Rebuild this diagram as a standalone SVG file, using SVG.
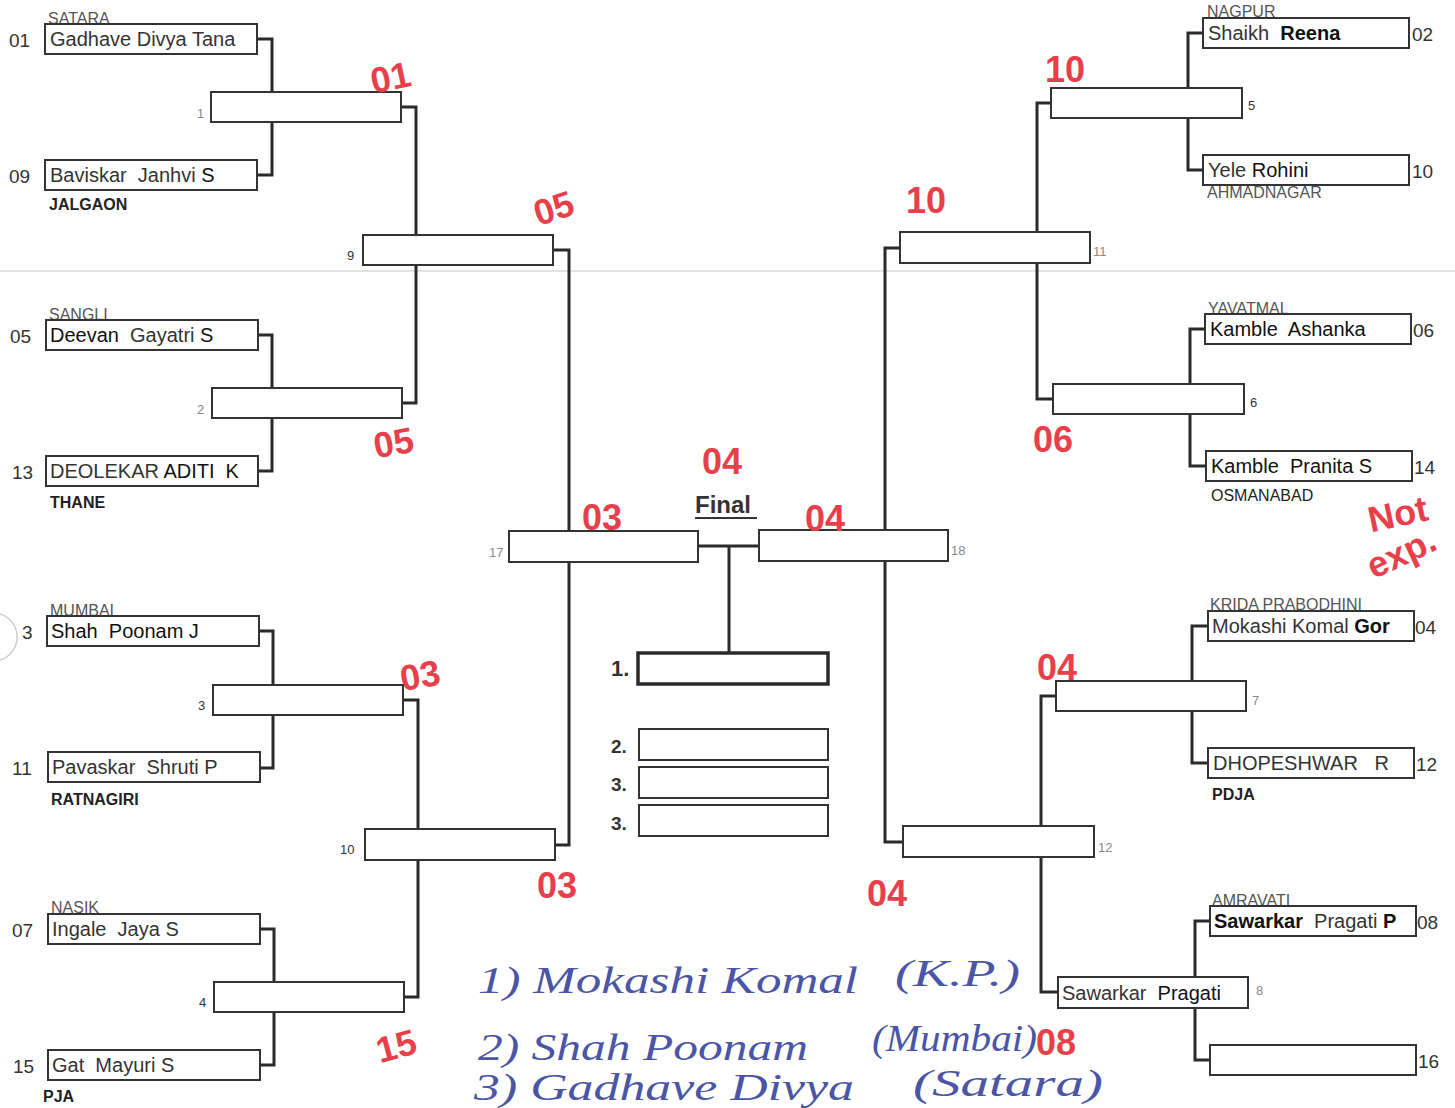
<svg xmlns="http://www.w3.org/2000/svg" width="1455" height="1108" viewBox="0 0 1455 1108">
<style>
.bx{fill:#fff;stroke:#333;stroke-width:2}
.bxf{fill:#fff;stroke:#2a2a2a;stroke-width:3.5}
.cn{fill:none;stroke:#2a2a2a;stroke-width:3}
.nm{font-family:"Liberation Sans",Arial,sans-serif;font-size:20px;fill:#333;white-space:pre}
.dk{fill:#111}
.sd{font-family:"Liberation Sans",Arial,sans-serif;font-size:19px;fill:#333}
.ct{font-family:"Liberation Sans",Arial,sans-serif;font-size:16px;fill:#555}
.cb{font-family:"Liberation Sans",Arial,sans-serif;font-size:16px;font-weight:bold;fill:#222}
.mn{font-family:"Liberation Sans",Arial,sans-serif;font-size:13px;fill:#888}
.md{font-family:"Liberation Sans",Arial,sans-serif;font-size:13px;fill:#333}
.fb{font-family:"Liberation Sans",Arial,sans-serif;font-weight:bold;fill:#333}
.rd{font-family:"Liberation Sans",Arial,sans-serif;font-weight:bold;fill:#e8404a;font-size:36px}
.bl{font-family:"Liberation Serif","Times New Roman",serif;font-style:italic;fill:#4b55a6;font-size:38px}
</style>
<rect width="1455" height="1108" fill="#fff"/>
<line x1="0" y1="271" x2="1455" y2="271" stroke="#e2e2e2" stroke-width="2"/>
<path d="M0,614 A24,24 0 0 1 0,660" fill="none" stroke="#ccc" stroke-width="1.5"/>

<g id="connectors">
<path class="cn" d="M257,39 H272 V92 M272,122 V175 H257"/>
<path class="cn" d="M257,335 H272 V388 M272,418 V471 H258"/>
<path class="cn" d="M258,631 H273 V685 M273,715 V768 H259"/>
<path class="cn" d="M259,929 H274 V982 M274,1012 V1065 H259"/>
<path class="cn" d="M401,107 H416 V235 M416,265 V403 H402"/>
<path class="cn" d="M403,700 H418 V829 M418,860 V997 H404"/>
<path class="cn" d="M553,250 H569 V531 M569,562 V845 H555"/>
<path class="cn" d="M698,546 H759 M729,546 V652"/>
<path class="cn" d="M1203,33 H1188 V88 M1188,118 V170 H1203"/>
<path class="cn" d="M1205,329 H1190 V384 M1190,414 V466 H1206"/>
<path class="cn" d="M1208,626 H1192 V681 M1192,711 V763 H1208"/>
<path class="cn" d="M1210,921 H1195 V977 M1195,1008 V1060 H1210"/>
<path class="cn" d="M1051,103 H1037 V232 M1037,263 V399 H1053"/>
<path class="cn" d="M1056,696 H1041 V826 M1041,857 V992 H1058"/>
<path class="cn" d="M900,248 H885 V530 M885,561 V842 H903"/>
</g>

<!-- left entries -->
<g id="p01"><text class="ct" x="48" y="24">SATARA</text><rect class="bx" x="45" y="24" width="212" height="30"/><text class="nm" x="50" y="46">Gadhave Divya Tana</text><text class="sd" x="9" y="47">01</text></g>
<g id="p09"><rect class="bx" x="45" y="160" width="212" height="30"/><text class="nm" x="50" y="182">Baviskar  Janhvi <tspan class="dk">S</tspan></text><text class="sd" x="9" y="183">09</text><text class="cb" x="49" y="210">JALGAON</text></g>
<g id="p05"><text class="ct" x="49" y="320">SANGLI</text><rect class="bx" x="46" y="320" width="212" height="30"/><text class="nm" x="50" y="342"><tspan class="dk">Deevan</tspan>  Gayatri <tspan class="dk">S</tspan></text><text class="sd" x="10" y="343">05</text></g>
<g id="p13"><rect class="bx" x="46" y="456" width="212" height="30"/><text class="nm" x="50" y="478">DEOLEKAR <tspan class="dk">ADITI  K</tspan></text><text class="sd" x="12" y="479">13</text><text class="cb" x="50" y="508">THANE</text></g>
<g id="p03"><text class="ct" x="50" y="616">MUMBAI</text><rect class="bx" x="47" y="616" width="212" height="30"/><text class="nm dk" x="51" y="638">Shah  Poonam J</text><text class="sd" x="22" y="639">3</text></g>
<g id="p11"><rect class="bx" x="48" y="752" width="212" height="30"/><text class="nm" x="52" y="774">Pavaskar  Shruti P</text><text class="sd" x="12" y="775">11</text><text class="cb" x="51" y="805">RATNAGIRI</text></g>
<g id="p07"><text class="ct" x="51" y="913">NASIK</text><rect class="bx" x="48" y="914" width="212" height="30"/><text class="nm" x="52" y="936">Ingale  Jaya S</text><text class="sd" x="12" y="937">07</text></g>
<g id="p15"><rect class="bx" x="48" y="1050" width="212" height="30"/><text class="nm" x="52" y="1072">Gat  Mayuri S</text><text class="sd" x="13" y="1073">15</text><text class="cb" x="43" y="1102">PJA</text></g>

<!-- right entries -->
<g id="p02"><text class="ct" x="1207" y="17">NAGPUR</text><rect class="bx" x="1203" y="18" width="206" height="30"/><text class="nm" x="1208" y="40">Shaikh  <tspan class="dk" font-weight="bold">Reena</tspan></text><text class="sd" x="1412" y="41">02</text></g>
<g id="p10"><text class="ct" x="1207" y="198">AHMADNAGAR</text><rect class="bx" x="1203" y="155" width="206" height="30"/><text class="nm" x="1208" y="177">Yele <tspan class="dk">Rohini</tspan></text><text class="sd" x="1412" y="178">10</text></g>
<g id="p06"><text class="ct" x="1208" y="314">YAVATMAL</text><rect class="bx" x="1205" y="314" width="206" height="30"/><text class="nm dk" x="1210" y="336">Kamble  Ashanka</text><text class="sd" x="1413" y="337">06</text></g>
<g id="p14"><rect class="bx" x="1206" y="451" width="206" height="30"/><text class="nm dk" x="1211" y="473">Kamble  Pranita S</text><text class="sd" x="1414" y="474">14</text><text class="ct" style="fill:#222" x="1211" y="501">OSMANABAD</text></g>
<g id="p04"><text class="ct" x="1210" y="610">KRIDA PRABODHINI</text><rect class="bx" x="1208" y="611" width="206" height="30"/><text class="nm" x="1212" y="633">Mokashi Komal <tspan class="dk" font-weight="bold">Gor</tspan></text><text class="sd" x="1415" y="634">04</text></g>
<g id="p12"><rect class="bx" x="1208" y="748" width="206" height="30"/><text class="nm" x="1213" y="770">DHOPESHWAR   R</text><text class="sd" x="1416" y="771">12</text><text class="cb" x="1212" y="800">PDJA</text></g>
<g id="p08"><text class="ct" x="1212" y="906">AMRAVATI</text><rect class="bx" x="1210" y="906" width="206" height="30"/><text class="nm" x="1214" y="928"><tspan class="dk" font-weight="bold">Sawarkar</tspan>  Pragati <tspan class="dk" font-weight="bold">P</tspan></text><text class="sd" x="1417" y="929">08</text></g>
<g id="p16"><rect class="bx" x="1210" y="1045" width="206" height="30"/><text class="sd" x="1418" y="1068">16</text></g>

<!-- matches left -->
<g id="m1"><rect class="bx" x="211" y="92" width="190" height="30"/><text class="mn" x="197" y="118">1</text></g>
<g id="m2"><rect class="bx" x="212" y="388" width="190" height="30"/><text class="mn" x="197" y="414">2</text></g>
<g id="m3"><rect class="bx" x="213" y="685" width="190" height="30"/><text class="md" x="198" y="710">3</text></g>
<g id="m4"><rect class="bx" x="214" y="982" width="190" height="30"/><text class="md" x="199" y="1007">4</text></g>
<g id="m9"><rect class="bx" x="363" y="235" width="190" height="30"/><text class="md" x="347" y="260">9</text></g>
<g id="m10"><rect class="bx" x="365" y="829" width="190" height="31"/><text class="md" x="340" y="854">10</text></g>
<g id="m17"><rect class="bx" x="509" y="531" width="189" height="31"/><text class="mn" x="489" y="557">17</text></g>
<!-- matches right -->
<g id="m5"><rect class="bx" x="1051" y="88" width="191" height="30"/><text class="md" x="1248" y="110">5</text></g>
<g id="m6"><rect class="bx" x="1053" y="384" width="191" height="30"/><text class="md" x="1250" y="407">6</text></g>
<g id="m7"><rect class="bx" x="1056" y="681" width="190" height="30"/><text class="mn" x="1252" y="705">7</text></g>
<g id="m8"><rect class="bx" x="1058" y="977" width="190" height="31"/><text class="nm" x="1062" y="1000">Sawarkar  <tspan class="dk">Pragati</tspan></text><text class="mn" x="1256" y="995">8</text></g>
<g id="m11"><rect class="bx" x="900" y="232" width="190" height="31"/><text class="mn" x="1093" y="256">11</text></g>
<g id="m12"><rect class="bx" x="903" y="826" width="191" height="31"/><text class="mn" x="1098" y="852">12</text></g>
<g id="m18"><rect class="bx" x="759" y="530" width="189" height="31"/><text class="mn" x="951" y="555">18</text></g>

<!-- final -->
<g id="final-title"><text class="fb" x="695" y="513" font-size="24">Final</text><line x1="695" y1="518" x2="757" y2="518" stroke="#333" stroke-width="2"/></g>
<g id="place1"><rect class="bxf" x="638" y="653" width="190" height="31"/><text class="fb" x="611" y="676" font-size="22">1.</text></g>
<g id="place2"><rect class="bx" x="639" y="729" width="189" height="31"/><text class="fb" x="611" y="753" font-size="19">2.</text></g>
<g id="place3a"><rect class="bx" x="639" y="767" width="189" height="31"/><text class="fb" x="611" y="791" font-size="19">3.</text></g>
<g id="place3b"><rect class="bx" x="639" y="805" width="189" height="31"/><text class="fb" x="611" y="830" font-size="19">3.</text></g>

<!-- red handwritten annotations -->
<g id="red-notes">
<text class="rd" x="370" y="90" transform="rotate(-12 390 75)">01</text>
<text class="rd" x="530" y="218" font-size="40" transform="rotate(-18 560 195)">05</text>
<text class="rd" x="373" y="455" font-size="34" transform="rotate(-10 395 440)">05</text>
<text class="rd" x="400" y="688" font-size="32" transform="rotate(-10 420 675)">03</text>
<text class="rd" x="537" y="898" font-size="32">03</text>
<text class="rd" x="376" y="1058" font-size="32" transform="rotate(-15 398 1045)">15</text>
<text class="rd" x="582" y="530" font-size="34">03</text>
<text class="rd" x="702" y="474" font-size="36">04</text>
<text class="rd" x="805" y="531" font-size="40">04</text>
<text class="rd" x="1045" y="82" font-size="34">10</text>
<text class="rd" x="906" y="213" font-size="34">10</text>
<text class="rd" x="1033" y="452" font-size="34">06</text>
<text class="rd" x="1037" y="680" font-size="34">04</text>
<text class="rd" x="867" y="906" font-size="36">04</text>
<text class="rd" x="1036" y="1055" font-size="36">08</text>
<text class="rd" x="1368" y="526" font-size="30" transform="rotate(-12 1400 515)">Not</text>
<text class="rd" x="1366" y="566" font-size="30" transform="rotate(-25 1400 555)">exp.</text>
</g>

<!-- blue handwritten notes -->
<g id="blue-notes">
<text class="bl" x="478" y="993" textLength="380" lengthAdjust="spacingAndGlyphs">1) Mokashi Komal</text>
<text class="bl" x="895" y="986" textLength="125" lengthAdjust="spacingAndGlyphs">(K.P.)</text>
<text class="bl" x="478" y="1060" textLength="330" lengthAdjust="spacingAndGlyphs">2) Shah Poonam</text>
<text class="bl" x="872" y="1051" textLength="165" lengthAdjust="spacingAndGlyphs">(Mumbai)</text>
<text class="bl" x="474" y="1100" font-size="34" textLength="380" lengthAdjust="spacingAndGlyphs">3) Gadhave Divya</text>
<text class="bl" x="913" y="1096" font-size="34" textLength="190" lengthAdjust="spacingAndGlyphs">(Satara)</text>
</g>
</svg>
